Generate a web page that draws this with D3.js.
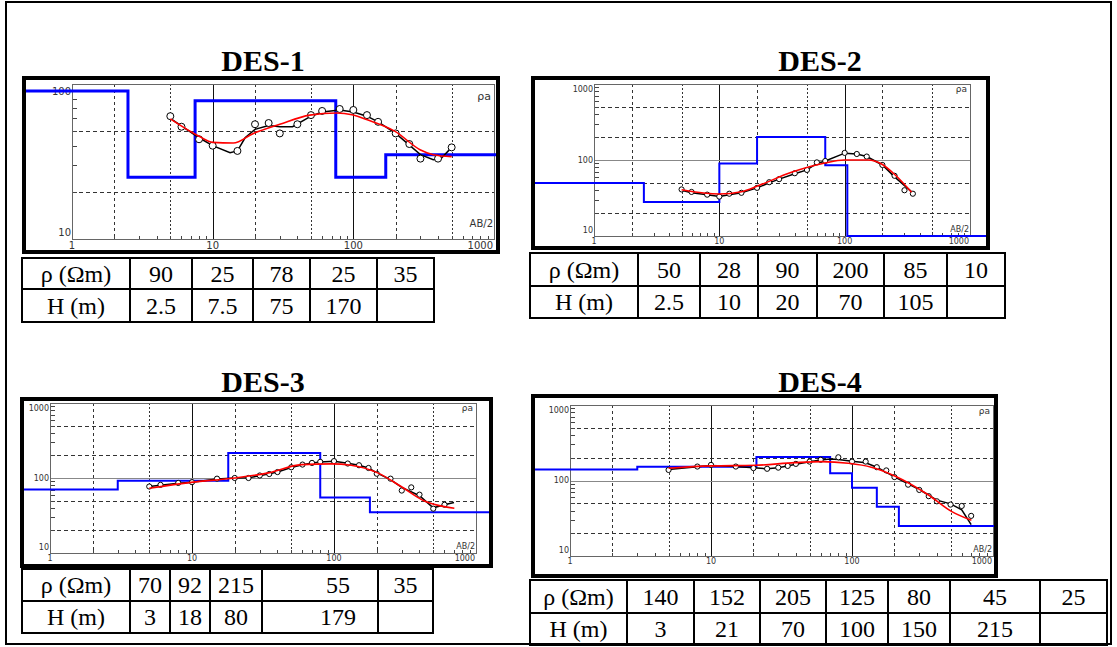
<!DOCTYPE html>
<html>
<head>
<meta charset="utf-8">
<script src="https://cdn.jsdelivr.net/npm/d3@7"></script>
<style>
body { margin: 0; background: #fff; }
svg text { font-family: "Liberation Serif", "Times New Roman", serif; }
svg text.small { font-family: "DejaVu Sans", sans-serif; fill: #333; }
</style>
</head>
<body>
<div id="canvas"></div>
<script>
// ---- DES-1 ----
const des1Rho = [90, 25, 78, 25, 35];
const des1Depth = [2.5, 7.5, 75, 170];
const des1ObsAB = [5, 6, 8, 10, 15, 20, 25, 30, 40, 50, 60, 80, 100, 125, 150, 200, 250, 300, 400, 500];
const des1ObsRho = [62, 53, 44, 40, 37, 55, 56, 48, 55, 63, 67, 69, 68, 63, 57, 48, 41, 33, 33, 39];
const des1FieldAB = [5, 8, 10, 13.3, 15, 17, 20, 25, 30, 37, 50, 60, 80, 100, 125, 150, 200, 300, 370, 420, 500];
const des1FieldRho = [60, 45, 40, 36, 37, 45, 51, 54, 53, 53, 62, 66, 68, 66, 62, 57, 48, 35, 32.5, 33, 39];
const des1ModelAB = [5, 8, 10, 14, 19.5, 30, 49, 76, 98, 124, 198, 298, 370, 500];
const des1ModelRho = [59.5, 46, 42, 41.6, 48, 55, 63, 65, 63.4, 59, 49.5, 37.7, 35, 34];

// ---- DES-2 ----
const des2Rho = [50, 28, 90, 200, 85, 10];
const des2Depth = [2.5, 10, 20, 70, 105];
const des2ObsAB = [5, 6, 8, 10, 12, 15, 20, 25, 30, 40, 50, 60, 70, 100, 125, 150, 200, 250, 300, 350];
const des2ObsRho = [41, 38, 35, 33, 36, 37, 43, 51, 56, 67, 74, 93, 97, 124, 120, 111, 86, 62, 40, 36];
const des2FieldAB = [5, 6, 8, 10, 12, 15, 20, 25, 30, 40, 50, 60, 70, 100, 125, 150, 200, 250, 350];
const des2FieldRho = [40, 37, 35, 33, 35, 37, 43, 50, 56, 66, 74, 90, 97, 123, 120, 111, 86, 60, 37];
const des2ModelAB = [5, 10, 15, 20.4, 37.6, 69.5, 99, 154, 197, 252, 342];
const des2ModelRho = [40.7, 35.7, 38.3, 45.8, 68.8, 91.3, 100, 100, 88.6, 64, 37.6];

// ---- DES-3 ----
const des3Rho = [70, 92, 215, 55, 35];
const des3Depth = [3, 18, 80, 179];
const des3ObsAB = [5, 6, 8, 10, 15, 20, 25, 30, 35, 40, 50, 60, 70, 80, 100, 125, 150, 175, 200, 250, 300, 350, 400, 500, 600];
const des3ObsRho = [77, 81, 86, 88, 98, 100, 100, 108, 113, 120, 139, 151, 159, 164, 168, 156, 148, 136, 114, 98, 68, 75, 60, 39, 44];
const des3FieldAB = [5, 6, 8, 10, 15, 20, 25, 30, 40, 50, 60, 70, 80, 100, 125, 150, 175, 200, 250, 300, 400, 500, 600, 700];
const des3FieldRho = [77, 80, 85, 88, 97, 100, 101, 107, 120, 138, 150, 158, 163, 167, 157, 148, 136, 117, 95, 75, 58, 40, 44, 47];
const des3ModelAB = [5, 9.9, 20, 34.5, 58.9, 95.7, 132, 203, 297, 433, 598, 704];
const des3ModelRho = [73, 87.5, 100, 117, 151, 154.5, 148, 117, 77, 49.5, 41.5, 39.5];

// ---- DES-4 ----
const des4Rho = [140, 152, 205, 125, 80, 45, 25];
const des4Depth = [3, 21, 70, 100, 150, 215];
const des4ObsAB = [5, 8, 10, 15, 20, 25, 30, 35, 40, 50, 60, 80, 100, 125, 150, 175, 200, 250, 300, 350, 400, 500, 600, 700];
const des4ObsRho = [138, 153, 161, 153, 146, 143, 148, 156, 166, 178, 188, 203, 178, 178, 150, 136, 111, 88, 75, 62, 53, 48, 46, 34];
const des4FieldAB = [5, 8, 10, 15, 20, 25, 30, 40, 50, 60, 70, 80, 100, 125, 150, 200, 250, 300, 400, 500, 600, 700];
const des4FieldRho = [140, 152, 158, 153, 147, 143, 148, 164, 177, 187, 192, 190, 180, 172, 150, 112, 90, 76, 55, 49, 41, 26];
const des4ModelAB = [5, 10, 20.5, 39.3, 60.8, 94, 137, 201, 347, 507, 703];
const des4ModelRho = [145.5, 156, 159, 172.5, 178, 169, 150, 115, 64.7, 39, 29.7];

const rowLabels = ['\u03C1 (\u03A9m)', 'H (m)'];

const panels = [
	{ id: 'd1', title: 'DES-1', rho: des1Rho, depth: des1Depth,
		obs: [des1ObsAB, des1ObsRho], field: [des1FieldAB, des1FieldRho], model: [des1ModelAB, des1ModelRho],
		yDomain: [10, 100], frame: { x: 22, y: 76, w: 478, h: 178 }, plot: { l: 72, r: 494, t: 84, b: 239 },
		titleX: 263, titleY: 71, fs: 10, blueW: 3, r: 3.5, rhoaDy: 16, abDy: 12,
		table: { x: 22, y: 258, rows: [31, 33], cols: [108, 62, 61, 57, 67, 57], dx: {} } },
	{ id: 'd2', title: 'DES-2', rho: des2Rho, depth: des2Depth,
		obs: [des2ObsAB, des2ObsRho], field: [des2FieldAB, des2FieldRho], model: [des2ModelAB, des2ModelRho],
		yDomain: [10, 1000], frame: { x: 531, y: 76, w: 459, h: 174 }, plot: { l: 594, r: 970, t: 84, b: 236 },
		titleX: 820, titleY: 71, fs: 8, blueW: 2, r: 2.6, rhoaDy: 8, abDy: 4,
		table: { x: 530, y: 253, rows: [33, 32], cols: [108, 62, 58, 59, 67, 63, 58], dx: {} } },
	{ id: 'd3', title: 'DES-3', rho: des3Rho, depth: des3Depth,
		obs: [des3ObsAB, des3ObsRho], field: [des3FieldAB, des3FieldRho], model: [des3ModelAB, des3ModelRho],
		yDomain: [10, 1000], frame: { x: 20, y: 397, w: 473, h: 171 }, plot: { l: 50, r: 476, t: 403, b: 553 },
		titleX: 263, titleY: 392, fs: 8, blueW: 2, r: 2.6, rhoaDy: 8, abDy: 4,
		table: { x: 22, y: 569, rows: [32, 32], cols: [108, 40, 40, 52, 116, 55], dx: { 4: 18 } } },
	{ id: 'd4', title: 'DES-4', rho: des4Rho, depth: des4Depth,
		obs: [des4ObsAB, des4ObsRho], field: [des4FieldAB, des4FieldRho], model: [des4ModelAB, des4ModelRho],
		yDomain: [10, 1000], frame: { x: 531, y: 394, w: 467, h: 184 }, plot: { l: 570, r: 993, t: 405, b: 556 },
		titleX: 820, titleY: 392, fs: 8, blueW: 2, r: 2.6, rhoaDy: 9, abDy: 4,
		table: { x: 530, y: 580, rows: [33, 32], cols: [97, 67, 66, 66, 62, 62, 90, 67], dx: {} } }
];

const W = 1117, H = 647;
const svg = d3.select('#canvas').append('svg').attr('width', W).attr('height', H);

// outer page border
svg.append('rect').attr('x', 6).attr('y', 2).attr('width', 1105).attr('height', 642)
	.attr('fill', 'none').attr('stroke', '#000').attr('stroke-width', 2);

function logValues(domain) {
	const out = [];
	const e0 = Math.round(Math.log10(domain[0])), e1 = Math.round(Math.log10(domain[1]));
	for (let e = e0; e < e1; e++) {
		for (let m = 1; m < 10; m++) out.push({ v: m * Math.pow(10, e), m: m });
	}
	out.push({ v: domain[1], m: 1 });
	return out;
}

function drawPanel(p) {
	const g = svg.append('g').attr('id', p.id);
	const x = d3.scaleLog().domain([1, 1000]).range([p.plot.l, p.plot.r]);
	const y = d3.scaleLog().domain(p.yDomain).range([p.plot.b, p.plot.t]);
	const f = p.frame;
	const px = v => Math.round(x(v)) + 0.5;
	const py = v => Math.round(y(v)) + 0.5;

	g.append('text')
		.attr('x', p.titleX).attr('y', p.titleY)
		.attr('text-anchor', 'middle').attr('font-weight', 'bold').attr('font-size', 30)
		.text(p.title);

	g.append('clipPath').attr('id', 'clip-' + p.id).append('rect')
		.attr('x', f.x + 4).attr('y', f.y + 4).attr('width', f.w - 8).attr('height', f.h - 8);

	const xs = logValues([1, 1000]);
	const ys = logValues(p.yDomain);
	const grid = g.append('g');

	// vertical grid
	xs.filter(d => d.v > 1 && d.v < 1000 && (d.m === 1 || d.m === 2 || d.m === 5)).forEach(d => {
		grid.append('line')
			.attr('x1', px(d.v)).attr('x2', px(d.v)).attr('y1', p.plot.t).attr('y2', p.plot.b)
			.attr('stroke', d.m === 1 ? '#111' : '#333').attr('stroke-width', 1)
			.attr('stroke-dasharray', d.m === 1 ? null : (d.m === 5 ? '2,2' : '3,3'));
	});
	// horizontal grid
	ys.filter(d => d.v > p.yDomain[0] && d.v < p.yDomain[1] && (d.m === 1 || d.m === 2 || d.m === 5)).forEach(d => {
		grid.append('line')
			.attr('x1', p.plot.l).attr('x2', p.plot.r).attr('y1', py(d.v)).attr('y2', py(d.v))
			.attr('stroke', d.m === 1 ? '#888' : '#333').attr('stroke-width', 1)
			.attr('stroke-dasharray', d.m === 1 ? null : '4,3');
	});
	// minor ticks
	xs.filter(d => d.m > 1).forEach(d => {
		grid.append('line').attr('x1', px(d.v)).attr('x2', px(d.v)).attr('y1', p.plot.b).attr('y2', p.plot.b - 3)
			.attr('stroke', '#444');
	});
	ys.filter(d => d.m > 1).forEach(d => {
		grid.append('line').attr('x1', p.plot.l).attr('x2', p.plot.l + 5).attr('y1', py(d.v)).attr('y2', py(d.v))
			.attr('stroke', '#444');
	});
	// plot border
	grid.append('rect')
		.attr('x', p.plot.l + 0.5).attr('y', p.plot.t + 0.5).attr('width', p.plot.r - p.plot.l).attr('height', p.plot.b - p.plot.t)
		.attr('fill', 'none').attr('stroke', '#666').attr('stroke-width', 1);

	// tick labels
	ys.filter(d => d.m === 1).forEach(d => {
		const yy = Math.min(Math.max(y(d.v), p.plot.t + p.fs * 0.7), p.plot.b - p.fs * 0.7);
		g.append('text').attr('class', 'small')
			.attr('x', p.plot.l - 1).attr('y', yy).attr('dy', '0.35em')
			.attr('text-anchor', 'end').attr('font-size', p.fs).text(d.v);
	});
	xs.filter(d => d.m === 1).forEach(d => {
		g.append('text').attr('class', 'small')
			.attr('x', d.v === 1000 ? p.plot.r - 1 : x(d.v)).attr('y', p.plot.b + p.fs)
			.attr('text-anchor', d.v === 1000 ? 'end' : 'middle').attr('font-size', p.fs).text(d.v);
	});
	g.append('text').attr('class', 'small')
		.attr('x', p.plot.r - 3).attr('y', p.plot.t + p.rhoaDy)
		.attr('text-anchor', 'end').attr('font-size', p.fs + 1).text('\u03C1a');
	g.append('text').attr('class', 'small')
		.attr('x', p.plot.r - 1).attr('y', p.plot.b - p.abDy)
		.attr('text-anchor', 'end').attr('font-size', p.fs).text('AB/2');

	// layered model (blue steps)
	const stepPts = [[0.1, p.rho[0]]];
	p.depth.forEach((dep, i) => stepPts.push([dep, p.rho[i + 1]]));
	stepPts.push([10000, p.rho[p.rho.length - 1]]);
	g.append('path')
		.attr('clip-path', 'url(#clip-' + p.id + ')')
		.attr('d', d3.line().x(d => x(d[0])).y(d => y(d[1])).curve(d3.curveStepAfter)(stepPts))
		.attr('fill', 'none').attr('stroke', '#0000ff').attr('stroke-width', p.blueW);

	// field curve
	const field = p.field[0].map((v, i) => [v, p.field[1][i]]);
	g.append('path')
		.attr('d', d3.line().x(d => x(d[0])).y(d => y(d[1]))(field))
		.attr('fill', 'none').attr('stroke', '#000').attr('stroke-width', 1.5);

	// observed points
	const obs = p.obs[0].map((v, i) => [v, p.obs[1][i]]);
	g.append('g').selectAll('circle').data(obs).enter().append('circle')
		.attr('cx', d => x(d[0])).attr('cy', d => y(d[1])).attr('r', p.r)
		.attr('fill', '#fff').attr('stroke', '#000').attr('stroke-width', 1);

	// model curve
	const model = p.model[0].map((v, i) => [v, p.model[1][i]]);
	g.append('path')
		.attr('d', d3.line().x(d => x(d[0])).y(d => y(d[1])).curve(d3.curveMonotoneX)(model))
		.attr('fill', 'none').attr('stroke', '#ff0000').attr('stroke-width', 1.6);

	// frame
	g.append('rect')
		.attr('x', f.x + 2).attr('y', f.y + 2).attr('width', f.w - 4).attr('height', f.h - 4)
		.attr('fill', 'none').attr('stroke', '#000').attr('stroke-width', 4);

	// table
	const t = p.table;
	const cells = [p.rho, p.depth];
	let yy = t.y;
	t.rows.forEach((rh, ri) => {
		let xx = t.x;
		t.cols.forEach((cw, ci) => {
			g.append('rect').attr('x', xx).attr('y', yy).attr('width', cw).attr('height', rh)
				.attr('fill', 'none').attr('stroke', '#000').attr('stroke-width', 2);
			const label = ci === 0 ? rowLabels[ri] : (cells[ri][ci - 1] !== undefined ? cells[ri][ci - 1] : '');
			g.append('text').attr('x', xx + cw / 2 + (t.dx[ci] || 0)).attr('y', yy + rh / 2).attr('dy', '0.35em')
				.attr('text-anchor', 'middle').attr('font-size', 24).text(label);
			xx += cw;
		});
		yy += rh;
	});
}

panels.forEach(drawPanel);
</script>
</body>
</html>
